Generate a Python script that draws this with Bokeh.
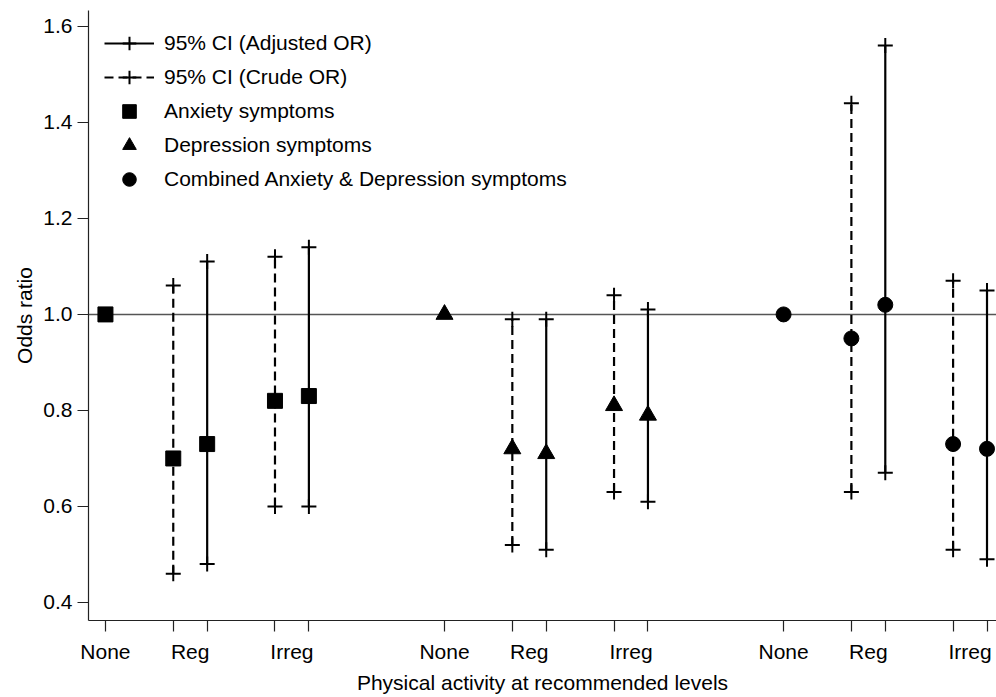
from bokeh.plotting import figure
from bokeh.models import (ColumnDataSource, FixedTicker, NumeralTickFormatter, Span,
                          Legend, LegendItem, Range1d)
from bokeh.embed import file_html
from bokeh.resources import INLINE

# ---------------- data ----------------
groups = ["Anxiety symptoms", "Depression symptoms", "Combined Anxiety & Depression symptoms"]
levels = ["None", "Reg", "Irreg"]
group_markers = ["square", "triangle", "circle"]

reference_or = [1.0, 1.0, 1.0]          # "None" level = reference category

# Crude OR (Reg, Irreg) per group
crude_or = [[0.70, 0.82], [0.72, 0.81], [0.95, 0.73]]
crude_lo = [[0.46, 0.60], [0.52, 0.63], [0.63, 0.51]]
crude_hi = [[1.06, 1.12], [0.99, 1.04], [1.44, 1.07]]

# Adjusted OR (Reg, Irreg) per group
adj_or = [[0.73, 0.83], [0.71, 0.79], [1.02, 0.72]]
adj_lo = [[0.48, 0.60], [0.51, 0.61], [0.67, 0.49]]
adj_hi = [[1.11, 1.14], [0.99, 1.01], [1.56, 1.05]]

y_ticks = [0.4, 0.6, 0.8, 1.0, 1.2, 1.4, 1.6]

# ---------------- positions ----------------
group_offset = 10
ref_pos = [1 + g * group_offset for g in range(3)]
crude_pos = [[3 + g * group_offset, 6 + g * group_offset] for g in range(3)]
adj_pos = [[4 + g * group_offset, 7 + g * group_offset] for g in range(3)]
label_pos = []
label_txt = {}
for g in range(3):
    for lv, off in zip(levels, [1, 3.5, 6.5]):
        v = off + g * group_offset
        label_pos.append(v)
        label_txt[v] = lv
minor_pos = sorted(ref_pos + [x for r in crude_pos for x in r] + [x for r in adj_pos for x in r])

FONT = "Liberation Sans"
FS = "21px"

p = figure(width=996, height=697, output_backend="svg", toolbar_location=None,
           x_range=Range1d(0.5, 27.28), y_range=Range1d(0.3625, 1.633),
           min_border_left=88, min_border_right=0, min_border_top=10, min_border_bottom=77)
p.outline_line_color = None
p.xgrid.visible = False
p.ygrid.visible = False
p.background_fill_color = "white"
p.border_fill_color = "white"

# reference line at OR = 1
p.add_layout(Span(location=1.0, dimension="width", line_color="#555555",
                  line_width=1.5, level="underlay"))

def build(pos, ors, los, his):
    xs, o, l, h, g = [], [], [], [], []
    for gi in range(3):
        for k in range(2):
            xs.append(pos[gi][k]); o.append(ors[gi][k])
            l.append(los[gi][k]); h.append(his[gi][k]); g.append(gi)
    return ColumnDataSource(dict(x=xs, orv=o, lo=l, hi=h, grp=g))

src_crude = build(crude_pos, crude_or, crude_lo, crude_hi)
src_adj = build(adj_pos, adj_or, adj_lo, adj_hi)

seg_adj = p.segment(x0="x", y0="lo", x1="x", y1="hi", source=src_adj,
                    line_color="black", line_width=2.2)
seg_crude = p.segment(x0="x", y0="lo", x1="x", y1="hi", source=src_crude,
                      line_color="black", line_width=2.2, line_dash="9 5")

cap_renderers = {}
for name, src in [("adj", src_adj), ("crude", src_crude)]:
    r1 = p.scatter(x="x", y="hi", source=src, marker="cross", size=15,
                   line_color="black", line_width=2)
    r2 = p.scatter(x="x", y="lo", source=src, marker="cross", size=15,
                   line_color="black", line_width=2)
    cap_renderers[name] = [r1, r2]

marker_renderers = []
for gi in range(3):
    xs = [ref_pos[gi]] + crude_pos[gi] + adj_pos[gi]
    ys = [reference_or[gi]] + crude_or[gi] + adj_or[gi]
    sz = 15 if group_markers[gi] != "triangle" else 17
    r = p.scatter(x=xs, y=ys, marker=group_markers[gi], size=sz,
                  fill_color="black", line_color="black")
    marker_renderers.append(r)

# ---------------- axes ----------------
xa = p.xaxis[0]
xa.ticker = FixedTicker(ticks=label_pos, minor_ticks=minor_pos)
xa.major_label_overrides = label_txt
xa.major_tick_out = 0
xa.major_tick_in = 0
xa.minor_tick_out = 11
xa.minor_tick_in = 0
xa.minor_tick_line_color = "#222222"
xa.minor_tick_line_width = 1.2
xa.major_label_standoff = 8
xa.axis_label = "Physical activity at recommended levels"
xa.axis_label_standoff = 5

ya = p.yaxis[0]
ya.ticker = FixedTicker(ticks=y_ticks, minor_ticks=[])
ya.formatter = NumeralTickFormatter(format="0.0")
ya.major_tick_out = 11
ya.major_tick_in = 0
ya.minor_tick_out = 0
ya.minor_tick_in = 0
ya.major_label_standoff = 5
ya.axis_label = "Odds ratio"
ya.axis_label_standoff = 4
ya.major_label_orientation = "horizontal"

for ax in (xa, ya):
    ax.axis_line_color = "#222222"
    ax.axis_line_width = 1.2
    ax.major_tick_line_color = "#222222"
    ax.major_tick_line_width = 1.2
    ax.major_label_text_font = FONT
    ax.major_label_text_font_size = FS
    ax.major_label_text_color = "black"
    ax.axis_label_text_font = FONT
    ax.axis_label_text_font_size = FS
    ax.axis_label_text_font_style = "normal"
    ax.axis_label_text_color = "black"

# ---------------- legend ----------------
items = [
    LegendItem(label="95% CI (Adjusted OR)", renderers=[seg_adj, cap_renderers["adj"][0]]),
    LegendItem(label="95% CI (Crude OR)", renderers=[seg_crude, cap_renderers["crude"][0]]),
]
for gi in range(3):
    items.append(LegendItem(label=groups[gi], renderers=[marker_renderers[gi]]))

legend = Legend(items=items, location="top_left", orientation="vertical",
                glyph_width=50, glyph_height=34, label_height=20, spacing=0,
                padding=0, margin=16, label_standoff=10,
                label_text_font=FONT, label_text_font_size=FS,
                label_text_color="black", border_line_color=None,
                background_fill_alpha=0.0)
p.add_layout(legend)

open("out.html", "w").write(file_html(p, INLINE))
